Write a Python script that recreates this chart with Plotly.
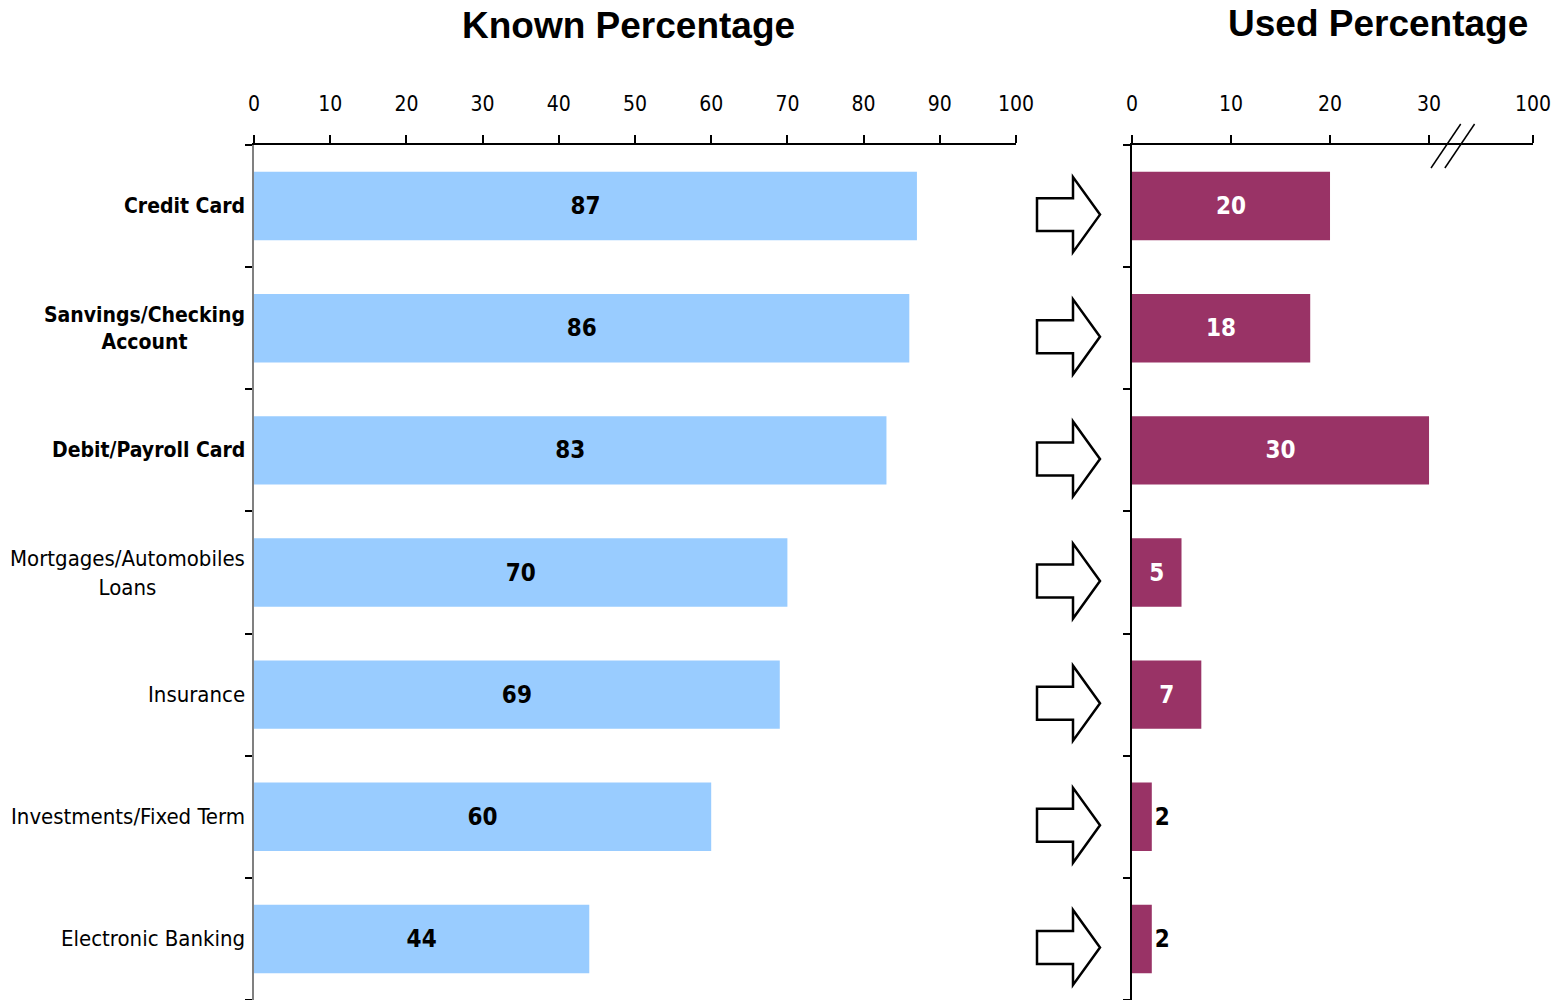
import plotly.graph_objects as go

categories = ["Credit Card", "Sanvings/Checking<br>Account", "Debit/Payroll Card",
              "Mortgages/Automobiles<br>Loans", "Insurance", "Investments/Fixed Term",
              "Electronic Banking"]
bold_flags = [True, True, True, False, False, False, False]
known_pct = [87, 86, 83, 70, 69, 60, 44]
used_pct = [20, 18, 30, 5, 7, 2, 2]

left_ticks = [0, 10, 20, 30, 40, 50, 60, 70, 80, 90, 100]
right_tickvals = [0, 10, 20, 30, 40.5]
right_ticktext = ["0", "10", "20", "30", "100"]

NARROW = "Liberation Sans Narrow, Arial Narrow, DejaVu Sans Condensed, sans-serif"
WIDE = "Liberation Sans, Arial, sans-serif"

W, H = 1556, 1000
n = len(categories)
ypos = list(range(n))

fig = go.Figure()
fig.add_trace(go.Bar(
    x=known_pct, y=ypos, orientation="h", xaxis="x", yaxis="y",
    marker=dict(color="#99CCFF", line=dict(width=0)),
    text=[str(v) for v in known_pct], textposition="inside",
    insidetextanchor="middle", textangle=0, constraintext="none",
    textfont=dict(family=NARROW, size=24, color="black", weight="bold"),
    hoverinfo="skip", showlegend=False,
))
fig.add_trace(go.Bar(
    x=used_pct, y=ypos, orientation="h", xaxis="x2", yaxis="y2",
    marker=dict(color="#993366", line=dict(width=0)),
    text=[str(v) for v in used_pct],
    textposition=["inside" if v >= 5 else "outside" for v in used_pct],
    insidetextanchor="middle", textangle=0, constraintext="none",
    insidetextfont=dict(family=NARROW, size=24, color="white", weight="bold"),
    outsidetextfont=dict(family=NARROW, size=24, color="black", weight="bold"),
    cliponaxis=False, hoverinfo="skip", showlegend=False,
))

ydom = [0, 1 - 145 / H]
boundaries = [i - 0.5 for i in range(n + 1)]

common_x = dict(side="top", ticks="outside", ticklen=8, tickwidth=1.5, tickcolor="black",
                showline=True, linecolor="black", linewidth=1.5, showgrid=False,
                zeroline=False, tickfont=dict(family=NARROW, size=21, color="black"),
                ticklabelstandoff=16, automargin=False, fixedrange=True)
common_y = dict(range=[n - 0.5, -0.5], tickvals=boundaries, ticktext=[""] * len(boundaries),
                ticks="outside", ticklen=7, tickwidth=1.5, tickcolor="black",
                showline=True, linewidth=1.5, showgrid=False, zeroline=False,
                domain=ydom, automargin=False, fixedrange=True)

fig.update_layout(
    width=W, height=H, margin=dict(l=0, r=0, t=0, b=0, pad=0), autosize=False,
    paper_bgcolor="white", plot_bgcolor="white", bargap=0.44,
    xaxis=dict(domain=[254 / W, 1016 / W], range=[0, 100], tickvals=left_ticks,
               anchor="y", **common_x),
    yaxis=dict(anchor="x", linecolor="#808080", **common_y),
    xaxis2=dict(domain=[1132 / W, 1533 / W], range=[0, 40.5], tickvals=right_tickvals,
                ticktext=right_ticktext, anchor="y2", **common_x),
    yaxis2=dict(anchor="x2", linecolor="black", **common_y),
)

annotations = [
    dict(text="<b>Known Percentage</b>", x=628 / W, y=1 - 25 / H, xref="paper", yref="paper",
         xanchor="center", yanchor="middle", showarrow=False,
         font=dict(family=WIDE, size=37, color="black")),
    dict(text="<b>Used Percentage</b>", x=1378 / W, y=1 - 23 / H, xref="paper", yref="paper",
         xanchor="center", yanchor="middle", showarrow=False,
         font=dict(family=WIDE, size=37, color="black")),
]
for i, (cat, b) in enumerate(zip(categories, bold_flags)):
    annotations.append(dict(
        text=f"<b>{cat}</b>" if b else cat, x=247 / W, y=i, xref="paper", yref="y",
        xanchor="right", yanchor="middle", align="center", showarrow=False,
        font=dict(family=NARROW, size=21 if b else 22, color="black")))
fig.update_layout(annotations=annotations)

shapes = []
# block arrows between the panels
xl, xh, xt = 1037 / W, 1073 / W, 1100 / W
bh, hh, off = 0.135, 0.307, 0.07
for i in range(n):
    c = i + off
    path = (f"M {xl},{c - bh} L {xh},{c - bh} L {xh},{c - hh} L {xt},{c} "
            f"L {xh},{c + hh} L {xh},{c + bh} L {xl},{c + bh} Z")
    shapes.append(dict(type="path", path=path, xref="paper", yref="y2",
                       line=dict(color="black", width=2.5), fillcolor="white"))
# axis break marks on the right axis
for x0 in (30.2, 31.6):
    shapes.append(dict(type="line", xref="x2", yref="paper", x0=x0, x1=x0 + 3.0,
                       y0=1 - 168 / H, y1=1 - 124 / H, line=dict(color="black", width=1.5)))
fig.update_layout(shapes=shapes)

fig.write_html("out.html")
